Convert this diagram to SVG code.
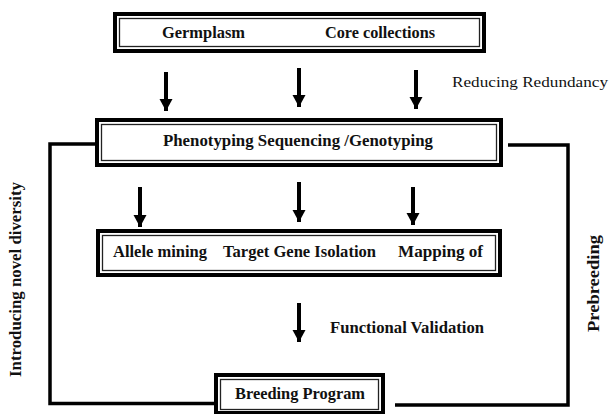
<svg xmlns="http://www.w3.org/2000/svg" width="612" height="414" viewBox="0 0 612 414">
  <style>
    .outer { fill: #fff; stroke: #000; stroke-width: 4; }
    .inner { fill: none; stroke: #222; stroke-width: 1.3; }
    .lbl { font-weight: bold; font-size: 16px; fill: #111; }
    .note { font-size: 14.5px; fill: #111; }
    .loop { fill: none; stroke: #000; stroke-width: 3.5; }
    .shaft { stroke: #000; stroke-width: 4; fill: none; }
  </style>
  <defs>
    <marker id="head" markerUnits="userSpaceOnUse" markerWidth="14" markerHeight="14" viewBox="0 0 14 14" refX="12" refY="7" orient="auto">
      <path d="M0,0.5 L12,7 L0,13.5 Z" fill="#000"/>
    </marker>
  </defs>
  <rect width="612" height="414" fill="#fff"/>

  <!-- feedback loops and flow arrows -->
  <g id="connectors">
    <polyline class="loop" points="95,144 50,144 50,403.5 214,403.5"/>
    <polyline class="loop" points="508,145 568,145 568,405 395,405"/>
    <line class="shaft" x1="166" y1="72" x2="166" y2="111" marker-end="url(#head)"/>
    <line class="shaft" x1="299" y1="68" x2="299" y2="107" marker-end="url(#head)"/>
    <line class="shaft" x1="416" y1="70" x2="416" y2="109" marker-end="url(#head)"/>
    <line class="shaft" x1="140" y1="187" x2="140" y2="227" marker-end="url(#head)"/>
    <line class="shaft" x1="299" y1="182" x2="299" y2="222" marker-end="url(#head)"/>
    <line class="shaft" x1="413" y1="187" x2="413" y2="225" marker-end="url(#head)"/>
    <line class="shaft" x1="299" y1="303" x2="299" y2="342" marker-end="url(#head)"/>
  </g>

  <g font-family="Liberation Serif, Times New Roman, Tinos, Nimbus Roman, FreeSerif, serif">
    <g id="sources">
      <rect class="outer" x="115" y="14" width="369" height="37"/>
      <rect class="inner" x="119.5" y="18.5" width="360" height="28"/>
      <text class="lbl" x="162" y="38" textLength="83" lengthAdjust="spacingAndGlyphs">Germplasm</text>
      <text class="lbl" x="325" y="38" textLength="110" lengthAdjust="spacingAndGlyphs">Core collections</text>
    </g>

    <g id="profiling">
      <rect class="outer" x="97" y="120" width="404" height="45"/>
      <rect class="inner" x="101.5" y="124.5" width="395" height="36"/>
      <text class="lbl" x="163" y="146" textLength="270" lengthAdjust="spacingAndGlyphs">Phenotyping Sequencing /Genotyping</text>
    </g>

    <g id="discovery">
      <rect class="outer" x="98" y="231" width="402" height="44"/>
      <rect class="inner" x="102.5" y="235.5" width="393" height="35"/>
      <text class="lbl" x="113" y="257" textLength="94" lengthAdjust="spacingAndGlyphs">Allele mining</text>
      <text class="lbl" x="223" y="257" textLength="153" lengthAdjust="spacingAndGlyphs">Target Gene Isolation</text>
      <text class="lbl" x="398" y="257" textLength="85" lengthAdjust="spacingAndGlyphs">Mapping of</text>
    </g>

    <g id="breeding">
      <rect class="outer" x="216" y="375" width="167" height="38"/>
      <rect class="inner" x="220.5" y="379.5" width="158" height="30"/>
      <text class="lbl" x="235" y="399" textLength="130" lengthAdjust="spacingAndGlyphs">Breeding Program</text>
    </g>

    <g id="labels">
      <text class="note" x="452" y="87" textLength="156" lengthAdjust="spacingAndGlyphs">Reducing Redundancy</text>
      <text class="lbl" x="330" y="333" textLength="154" lengthAdjust="spacingAndGlyphs">Functional Validation</text>
      <text class="lbl" transform="translate(21,377) rotate(-90)" textLength="195" lengthAdjust="spacingAndGlyphs">Introducing novel diversity</text>
      <text class="lbl" transform="translate(599,332) rotate(-90)" textLength="97" lengthAdjust="spacingAndGlyphs">Prebreeding</text>
    </g>
  </g>
</svg>
